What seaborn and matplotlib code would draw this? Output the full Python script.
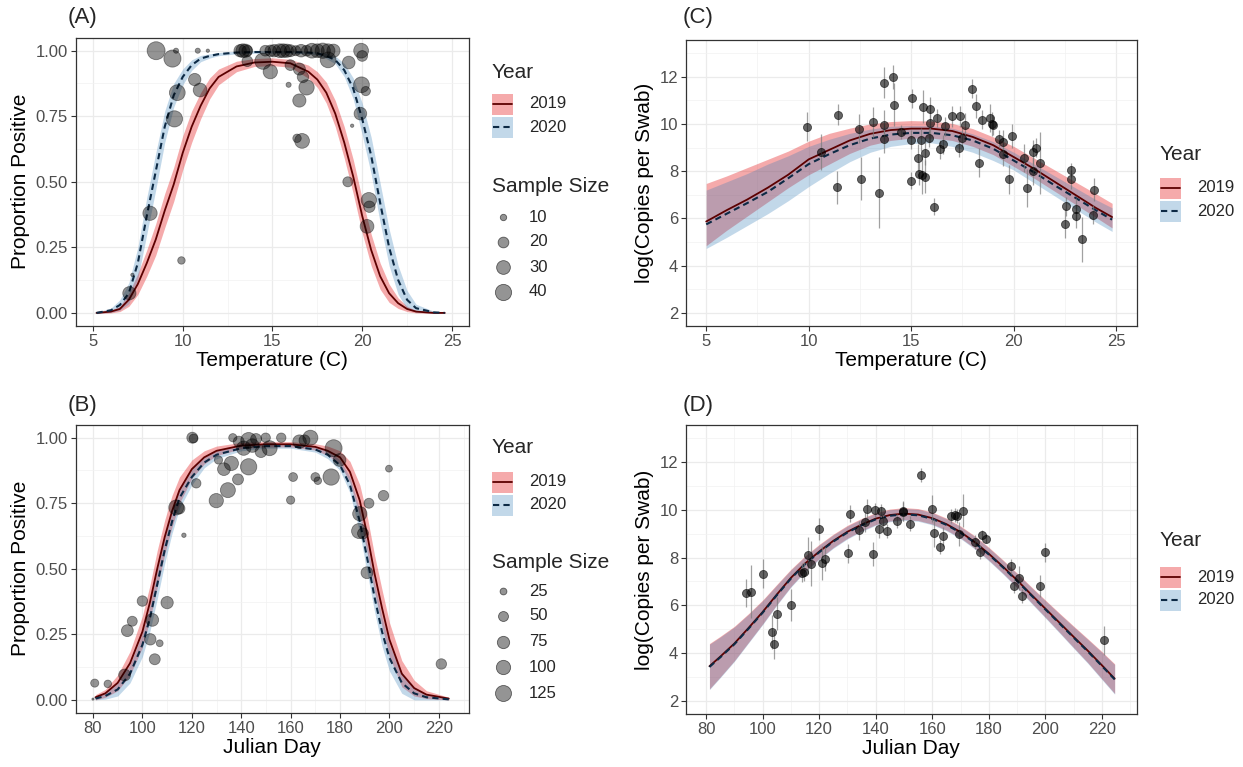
import numpy as np
import pandas as pd
import matplotlib
matplotlib.use("Agg")
import matplotlib.pyplot as plt
import seaborn as sns
from matplotlib.lines import Line2D
from matplotlib.patches import Rectangle
from matplotlib.ticker import FixedLocator

# ---------------- data ----------------
# Panel A: proportion positive vs temperature (points)
A_temp = [8.52, 9.43, 9.63, 10.84, 11.4, 10.67, 10.97, 9.70, 9.54, 8.18, 7.03, 7.20, 9.93,
          13.2, 13.35, 13.5, 13.6, 13.6, 14.47, 14.88,
          14.6, 14.9, 15.1, 15.4, 15.6, 15.8, 16.0, 16.3, 16.6, 16.9, 17.2, 17.5, 17.8, 18.1, 18.4,
          15.9, 16.0, 16.5, 16.7, 16.9, 16.5, 16.37, 16.65, 18.1, 19.25, 19.94, 20.0, 19.96, 20.2,
          19.44, 19.9, 19.2, 20.37, 20.4, 20.27]
A_prop = [1.00, 0.97, 1.00, 1.00, 1.00, 0.89, 0.85, 0.84, 0.74, 0.38, 0.075, 0.145, 0.20,
          1.00, 1.00, 1.00, 1.00, 0.96, 0.96, 0.92,
          1.00, 1.00, 1.00, 1.00, 1.00, 1.00, 1.00, 1.00, 1.00, 1.00, 1.00, 1.00, 1.00, 1.00, 1.00,
          0.87, 0.945, 0.93, 0.90, 0.86, 0.81, 0.666, 0.656, 0.965, 0.955, 1.00, 0.98, 0.87, 0.846,
          0.714, 0.76, 0.50, 0.43, 0.405, 0.33]
A_n = [48, 44, 8, 8, 6, 25, 30, 38, 40, 32, 28, 6, 12,
       25, 30, 28, 20, 20, 40, 32,
       20, 22, 25, 30, 30, 28, 24, 18, 26, 20, 34, 30, 36, 30, 28,
       8, 20, 24, 22, 36, 28, 14, 34, 38, 26, 34, 20, 38, 16,
       6, 26, 18, 36, 22, 30]

# Panel A fitted curves
A_fit_x = [5.2, 6, 6.5, 7, 7.5, 8, 8.5, 9, 9.5, 10, 10.5, 11, 11.5, 12, 13, 14, 15, 16, 17,
           17.5, 18, 18.5, 19, 19.5, 20, 20.5, 21, 21.5, 22, 22.5, 23, 24, 24.6]
A_fit_2019 = [0.0, 0.005, 0.015, 0.05, 0.11, 0.19, 0.28, 0.39, 0.49, 0.61, 0.71, 0.79, 0.856, 0.90,
              0.94, 0.955, 0.958, 0.952, 0.92, 0.89, 0.84, 0.76, 0.65, 0.52, 0.37, 0.24, 0.14,
              0.075, 0.037, 0.015, 0.005, 0.0, 0.0]
A_hw_2019 = [0.002, 0.005, 0.01, 0.025, 0.04, 0.05, 0.06, 0.065, 0.065, 0.065, 0.06, 0.05, 0.04,
             0.03, 0.02, 0.015, 0.015, 0.015, 0.025, 0.03, 0.04, 0.05, 0.06, 0.065, 0.065, 0.06,
             0.05, 0.035, 0.02, 0.01, 0.005, 0.002, 0.001]
A_fit_2020 = [0.0, 0.01, 0.03, 0.075, 0.19, 0.37, 0.54, 0.71, 0.83, 0.90, 0.945, 0.97, 0.98, 0.987,
              0.993, 0.995, 0.995, 0.995, 0.993, 0.99, 0.98, 0.965, 0.926, 0.856, 0.74, 0.60, 0.42,
              0.25, 0.126, 0.05, 0.018, 0.002, 0.0]
A_hw_2020 = [0.003, 0.008, 0.02, 0.04, 0.06, 0.07, 0.07, 0.06, 0.045, 0.03, 0.02, 0.012, 0.008,
             0.006, 0.005, 0.005, 0.005, 0.005, 0.005, 0.006, 0.01, 0.015, 0.025, 0.04, 0.06, 0.07,
             0.075, 0.07, 0.055, 0.035, 0.015, 0.004, 0.002]

# Panel B: proportion positive vs Julian day (points)
B_day = [80.7, 86, 92.8, 93.9, 95.9, 100, 104, 103.2, 105, 107, 110, 113.7, 115, 116.8,
         120.2, 120.7, 121.8, 129.9, 130.8, 134.6, 136, 133, 138.7, 143, 136.6,
         139, 141, 143, 144.5, 146, 148, 149.9, 151.5, 156.2, 160, 161, 163.6, 165.6, 168,
         170, 171, 176.4, 177.4, 179.8, 188, 187.7, 189.3, 191.7, 190.9, 197.6, 199.8, 221, 80]
B_prop = [0.064, 0.061, 0.095, 0.264, 0.30, 0.377, 0.305, 0.231, 0.155, 0.216, 0.371, 0.734, 0.73,
          0.628, 1.0, 0.997, 0.826, 0.76, 0.915, 0.80, 0.902, 0.88, 0.841, 0.889, 1.0,
          0.985, 0.96, 0.99, 0.97, 0.995, 0.947, 1.0, 0.96, 1.0, 0.762, 0.85, 0.985, 0.99, 1.0,
          0.85, 0.836, 0.85, 0.96, 0.915, 0.71, 0.644, 0.635, 0.75, 0.485, 0.779, 0.882, 0.137, 0.003]
B_n = [34, 30, 70, 70, 50, 55, 80, 65, 60, 25, 75, 110, 60, 12,
       60, 40, 45, 100, 35, 110, 100, 80, 60, 130, 35,
       60, 100, 120, 90, 60, 70, 45, 110, 45, 35, 40, 90, 60, 110,
       40, 30, 130, 140, 80, 100, 110, 60, 50, 70, 55, 25, 55, 5]

B_fit_x = [81, 85, 90, 95, 100, 103, 106, 109, 112, 115, 120, 125, 130, 140, 150, 160, 170, 175,
           180, 184, 188, 191, 194, 197, 200, 205, 210, 215, 224]
B_fit_2019 = [0.01, 0.025, 0.065, 0.14, 0.26, 0.37, 0.50, 0.62, 0.72, 0.80, 0.88, 0.925, 0.95,
              0.97, 0.975, 0.975, 0.965, 0.95, 0.925, 0.87, 0.76, 0.63, 0.48, 0.35, 0.23, 0.10,
              0.045, 0.02, 0.005]
B_hw_2019 = [0.01, 0.015, 0.03, 0.045, 0.06, 0.065, 0.07, 0.065, 0.06, 0.05, 0.035, 0.025, 0.018,
             0.012, 0.01, 0.01, 0.012, 0.018, 0.025, 0.04, 0.06, 0.07, 0.07, 0.07, 0.065, 0.05,
             0.03, 0.015, 0.005]
B_fit_2020 = [0.005, 0.015, 0.04, 0.10, 0.21, 0.31, 0.44, 0.57, 0.68, 0.77, 0.85, 0.905, 0.935,
              0.96, 0.968, 0.968, 0.955, 0.935, 0.895, 0.82, 0.68, 0.54, 0.39, 0.26, 0.16, 0.065,
              0.025, 0.01, 0.002]
B_hw_2020 = [0.008, 0.012, 0.025, 0.035, 0.045, 0.05, 0.055, 0.05, 0.045, 0.04, 0.03, 0.02, 0.015,
             0.01, 0.008, 0.008, 0.01, 0.015, 0.02, 0.03, 0.045, 0.055, 0.055, 0.055, 0.05, 0.04,
             0.025, 0.012, 0.004]

# Panel C: log copies vs temperature
C_temp = [9.93, 10.6, 11.42, 11.39, 12.45, 12.53, 13.16, 13.42, 13.65, 13.65, 13.68, 14.1, 14.17,
          14.5, 15.0, 15.05, 14.97, 15.31, 15.57, 15.37, 15.55, 15.65, 15.47, 15.68, 15.86, 15.9,
          15.9, 16.09, 16.25, 16.41, 16.54, 16.63, 16.98, 17.36, 17.31, 17.62, 17.47, 17.98, 18.15,
          18.3, 18.45, 18.82, 18.93, 18.98, 19.28, 19.5, 19.47, 19.76, 19.91, 20.51, 20.64, 20.93,
          21.08, 20.93, 21.29, 22.51, 22.53, 22.79, 22.8, 23.02, 23.05, 23.34, 23.91, 23.89]
C_copies = [9.89, 8.82, 10.39, 7.31, 9.8, 7.69, 10.07, 7.09, 9.97, 9.38, 11.75, 11.99, 10.81,
            9.66, 9.34, 11.08, 7.6, 8.57, 10.73, 7.9, 7.83, 7.76, 9.34, 8.78, 9.41, 10.04,
            10.63, 6.5, 10.25, 8.92, 9.13, 9.9, 10.32, 10.32, 8.96, 9.97, 9.41, 11.48, 10.76,
            8.36, 10.17, 10.25, 10.0, 9.94, 9.36, 9.24, 8.71, 7.65, 9.48, 8.57, 7.29, 8.81,
            8.99, 8.0, 8.34, 5.78, 6.52, 8.04, 7.66, 6.38, 6.1, 5.12, 7.22, 6.15]
C_err = [0.6, 0.75, 0.45, 0.7, 0.6, 0.9, 0.65, 1.5, 0.6, 0.6, 0.65, 0.5, 0.9,
         0.3, 0.4, 0.4, 0.35, 0.6, 0.7, 0.5, 0.8, 0.7, 0.5, 0.5, 0.4, 0.8,
         0.5, 0.35, 0.4, 0.4, 0.4, 0.4, 0.45, 0.45, 0.35, 0.5, 0.4, 0.4, 0.5,
         0.6, 0.4, 0.6, 0.5, 0.4, 0.4, 0.5, 0.5, 0.6, 0.5, 0.6, 0.8, 0.5,
         0.4, 0.6, 1.3, 0.6, 0.4, 0.3, 0.4, 0.5, 0.5, 0.95, 0.5, 0.4]

C_fit_x = [5, 6, 7, 8, 9, 10, 11, 12, 13, 14, 15, 16, 17, 18, 19, 20, 21, 22, 23, 24, 24.8]
C_fit_2019 = [5.87, 6.35, 6.8, 7.3, 7.85, 8.5, 8.9, 9.3, 9.58, 9.74, 9.8, 9.8, 9.7, 9.45, 9.1,
              8.6, 8.1, 7.55, 7.0, 6.45, 6.06]
C_hi_2019 = [7.48, 7.8, 8.15, 8.5, 8.85, 9.27, 9.6, 9.82, 10.0, 10.1, 10.14, 10.12, 10.02, 9.8,
             9.45, 9.05, 8.55, 8.05, 7.55, 7.05, 6.64]
C_lo_2019 = [4.85, 5.5, 6.1, 6.7, 7.3, 7.85, 8.3, 8.75, 9.1, 9.3, 9.4, 9.4, 9.3, 9.05, 8.7, 8.2,
             7.7, 7.15, 6.6, 6.05, 5.6]
C_fit_2020 = [5.75, 6.2, 6.65, 7.12, 7.7, 8.3, 8.72, 9.1, 9.38, 9.55, 9.62, 9.62, 9.52, 9.3, 8.95,
              8.45, 7.95, 7.4, 6.88, 6.35, 5.95]
C_hi_2020 = [7.2, 7.55, 7.9, 8.3, 8.65, 9.05, 9.35, 9.6, 9.78, 9.9, 9.93, 9.92, 9.82, 9.58, 9.25,
             8.8, 8.3, 7.8, 7.3, 6.8, 6.45]
C_lo_2020 = [4.73, 5.2, 5.7, 6.2, 6.75, 7.35, 7.9, 8.4, 8.8, 9.05, 9.17, 9.2, 9.05, 8.8, 8.45,
             8.05, 7.5, 6.95, 6.4, 5.85, 5.45]

# Panel D: log copies vs Julian day
D_day = [94.0, 96.0, 100.1, 103.2, 103.9, 105.0, 110.0, 114.0, 114.6, 116.0, 117.1, 120.0, 120.9,
         122.0, 130.2, 130.9, 134.1, 136.2, 136.9, 138.9, 139.8, 141.0, 141.8, 142.7, 144.1, 147.7,
         149.5, 149.8, 152.1, 155.9, 160.0, 160.7, 162.9, 163.9, 166.6, 168.0, 168.8, 169.5, 170.9,
         175.1, 176.8, 177.6, 178.9, 187.7, 188.8, 190.7, 191.9, 198.0, 200.0, 220.8]
D_copies = [6.52, 6.57, 7.33, 4.89, 4.36, 5.65, 6.02, 7.37, 7.4, 8.09, 7.75, 9.2, 7.77, 7.94,
            8.18, 9.84, 9.14, 9.49, 10.02, 8.14, 9.98, 9.21, 9.95, 9.53, 9.11, 9.53, 9.95, 9.91,
            9.42, 11.46, 10.05, 9.03, 8.44, 8.89, 9.74, 9.77, 9.74, 8.97, 9.96, 8.65, 8.23, 8.96,
            8.79, 7.63, 6.8, 7.16, 6.39, 6.8, 8.22, 4.54]
D_err = [0.57, 1.1, 0.6, 0.7, 0.6, 0.7, 0.66, 0.4, 0.4, 0.77, 0.95, 0.45, 0.7, 0.5, 0.4, 0.35,
         0.4, 0.4, 0.45, 0.5, 0.3, 0.4, 0.3, 0.3, 0.3, 0.3, 0.4, 0.4, 0.3, 0.3, 0.55, 0.6, 0.3,
         0.4, 0.3, 0.3, 0.3, 0.5, 0.7, 0.3, 0.3, 0.2, 0.2, 0.3, 0.3, 0.5, 0.3, 0.45, 0.4, 0.6]

D_fit_x = [81.2, 85, 90, 95, 100, 105, 110, 115, 120, 125, 130, 135, 140, 145, 150, 155, 160, 165,
           170, 175, 180, 185, 190, 195, 200, 205, 210, 215, 220, 224.5]
D_fit_2019 = [3.45, 3.85, 4.4, 5.05, 5.72, 6.45, 7.15, 7.75, 8.25, 8.7, 9.08, 9.38, 9.63, 9.78,
              9.84, 9.8, 9.65, 9.4, 9.07, 8.65, 8.16, 7.62, 7.05, 6.45, 5.86, 5.27, 4.68, 4.1,
              3.49, 2.93]
D_fit_2020 = [3.42, 3.82, 4.37, 5.02, 5.69, 6.42, 7.12, 7.72, 8.22, 8.67, 9.05, 9.35, 9.6, 9.75,
              9.81, 9.77, 9.62, 9.37, 9.04, 8.62, 8.13, 7.59, 7.02, 6.42, 5.83, 5.24, 4.65, 4.07,
              3.46, 2.9]
D_hw = [0.95, 0.85, 0.72, 0.6, 0.5, 0.42, 0.36, 0.32, 0.3, 0.28, 0.27, 0.26, 0.25, 0.25, 0.25,
        0.25, 0.25, 0.25, 0.25, 0.26, 0.27, 0.28, 0.3, 0.33, 0.36, 0.4, 0.45, 0.5, 0.57, 0.62]

years = ["2019", "2020"]
A_size_breaks = [10, 20, 30, 40]
B_size_breaks = [25, 50, 75, 100, 125]

# ---------------- style ----------------
sns.set_theme(style="white")
plt.rcParams['font.family'] = ['Liberation Sans', 'DejaVu Sans']

RED_FILL, RED_A = '#E41A1C', 0.37
BLUE_FILL, BLUE_A = '#377EB8', 0.30
LINE19 = '#5C0000'
LINE20 = '#0D2A45'
DASH = (0, (3.0, 2.0))
PT = '#000000'
TICK_FS = 12
LEG_FS = 12

W, H = 1243, 767
fig = plt.figure(figsize=(W / 100, H / 100), dpi=100)
fig.patch.set_facecolor('white')


def fx(x):
    return x / W


def fy(y):
    return 1 - y / H


def px_axes(l, t, r, b):
    return fig.add_axes([l / W, 1 - b / H, (r - l) / W, (b - t) / H])


def style(ax, xlim, ylim, xmaj, xmin, ymaj, ymin, ylabels, xlabel, ylabel):
    ax.set_facecolor('white')
    ax.set_xlim(xlim)
    ax.set_ylim(ylim)
    ax.xaxis.set_major_locator(FixedLocator(xmaj))
    ax.xaxis.set_minor_locator(FixedLocator(xmin))
    ax.yaxis.set_major_locator(FixedLocator(ymaj))
    ax.yaxis.set_minor_locator(FixedLocator(ymin))
    ax.set_xticklabels([str(v) for v in xmaj])
    ax.set_yticklabels(ylabels)
    ax.grid(which='major', color='#EBEBEB', lw=0.9)
    ax.grid(which='minor', color='#F2F2F2', lw=0.5)
    ax.set_axisbelow(True)
    for s in ax.spines.values():
        s.set_visible(True)
        s.set_color('#333333')
        s.set_linewidth(0.9)
    ax.tick_params(which='major', length=3.5, width=0.8, color='#333333', labelsize=TICK_FS,
                   labelcolor='#4D4D4D', pad=2, bottom=True, left=True)
    ax.tick_params(which='minor', length=0)
    ax.set_xlabel(xlabel, fontsize=15, labelpad=2, color='black')
    ax.set_ylabel(ylabel, fontsize=15, labelpad=4, color='black')


def year_legend(x0, ytitle, yrows):
    fig.text(fx(x0), fy(ytitle), 'Year', fontsize=15, va='center', ha='left')
    specs = [(RED_FILL, RED_A, LINE19, '-', 1.3), (BLUE_FILL, BLUE_A, LINE20, DASH, 1.5)]
    for (fc, al, lc, ls, lw), yr, lab in zip(specs, yrows, years):
        fig.add_artist(Rectangle((fx(x0), fy(yr + 10.5)), 21 / W, 21 / H, transform=fig.transFigure,
                                 facecolor=fc, alpha=al, lw=0))
        fig.add_artist(Line2D([fx(x0 + 1), fx(x0 + 20)], [fy(yr), fy(yr)], transform=fig.transFigure,
                              color=lc, lw=lw, linestyle=ls))
        fig.text(fx(x0 + 37), fy(yr), lab, fontsize=LEG_FS, va='center', ha='left')


def size_legend(x0, ytitle, yrows, breaks, norm, sizes):
    fig.text(fx(x0), fy(ytitle), 'Sample Size', fontsize=15, va='center', ha='left')
    for b, yr in zip(breaks, yrows):
        s = sizes[0] + (b - norm[0]) / (norm[1] - norm[0]) * (sizes[1] - sizes[0])
        fig.add_artist(Line2D([fx(x0 + 10.5)], [fy(yr)], transform=fig.transFigure, marker='o',
                              linestyle='', markersize=np.sqrt(s), markerfacecolor=(0, 0, 0, 0.42),
                              markeredgecolor=(0, 0, 0, 0.55), markeredgewidth=0.6))
        fig.text(fx(x0 + 37), fy(yr), str(b), fontsize=LEG_FS, va='center', ha='left')


def ribbons_lines(ax, x, c19, lo19, hi19, c20, lo20, hi20):
    ax.fill_between(x, lo19, hi19, color=RED_FILL, alpha=RED_A, lw=0, zorder=1)
    ax.fill_between(x, lo20, hi20, color=BLUE_FILL, alpha=BLUE_A, lw=0, zorder=1)
    sns.lineplot(x=x, y=c19, ax=ax, color=LINE19, lw=1.3, estimator=None, sort=False, zorder=2)
    sns.lineplot(x=x, y=c20, ax=ax, color=LINE20, lw=1.5, estimator=None, sort=False, zorder=2,
                 linestyle=DASH)


prop_labels = ['0.00', '0.25', '0.50', '0.75', '1.00']
prop_major = [0, 0.25, 0.5, 0.75, 1.0]
prop_minor = [0.125, 0.375, 0.625, 0.875]

# ---------------- Panel A ----------------
axA = px_axes(75.7, 37.6, 469, 326)
a19 = np.array(A_fit_2019); h19 = np.array(A_hw_2019)
a20 = np.array(A_fit_2020); h20 = np.array(A_hw_2020)
ribbons_lines(axA, A_fit_x, a19, a19 - h19, a19 + h19, a20, a20 - h20, np.minimum(a20 + h20, 1.0))
A_norm, A_sizes = (5, 50), (2.0, 175)
dfA = pd.DataFrame({'temp': A_temp, 'prop': A_prop, 'n': A_n})
sns.scatterplot(data=dfA, x='temp', y='prop', size='n', size_norm=A_norm, sizes=A_sizes, ax=axA,
                color=PT, alpha=0.42, edgecolor=PT, linewidth=0.6, legend=False, zorder=3)
style(axA, (4.04, 25.95), (-0.05, 1.05), [5, 10, 15, 20, 25], [7.5, 12.5, 17.5, 22.5],
      prop_major, prop_minor, prop_labels, 'Temperature (C)', 'Proportion Positive')
fig.text(fx(68), fy(18), '(A)', fontsize=16, va='center', ha='left')
year_legend(492, 73, [104, 127])
size_legend(492, 186, [217, 242, 267, 292], A_size_breaks, A_norm, A_sizes)

# ---------------- Panel B ----------------
axB = px_axes(75.7, 424.6, 469, 713)
b19 = np.array(B_fit_2019); g19 = np.array(B_hw_2019)
b20 = np.array(B_fit_2020); g20 = np.array(B_hw_2020)
ribbons_lines(axB, B_fit_x, b19, np.maximum(b19 - g19, 0), b19 + g19, b20,
              np.maximum(b20 - g20, 0), b20 + g20)
B_norm, B_sizes = (5, 150), (2.5, 160)
dfB = pd.DataFrame({'day': B_day, 'prop': B_prop, 'n': B_n})
sns.scatterplot(data=dfB, x='day', y='prop', size='n', size_norm=B_norm, sizes=B_sizes, ax=axB,
                color=PT, alpha=0.42, edgecolor=PT, linewidth=0.6, legend=False, zorder=3)
style(axB, (73.0, 232.2), (-0.05, 1.05), list(range(80, 221, 20)), list(range(90, 231, 20)),
      prop_major, prop_minor, prop_labels, 'Julian Day', 'Proportion Positive')
fig.text(fx(68), fy(405), '(B)', fontsize=16, va='center', ha='left')
year_legend(492, 448, [482, 505])
size_legend(492, 562, [591, 616, 642, 667, 693], B_size_breaks, B_norm, B_sizes)

# ---------------- Panel C ----------------
axC = px_axes(685.7, 40, 1136.7, 326)
ribbons_lines(axC, C_fit_x, C_fit_2019, C_lo_2019, C_hi_2019, C_fit_2020, C_lo_2020, C_hi_2020)
cy = np.array(C_copies); ce = np.array(C_err)
axC.vlines(C_temp, cy - ce, cy + ce, color='#7A7A7A', alpha=0.7, lw=0.9, zorder=3)
sns.scatterplot(x=C_temp, y=C_copies, ax=axC, color=PT, alpha=0.6, s=34, edgecolor=PT,
                linewidth=0.6, legend=False, zorder=4)
style(axC, (4.0, 26.0), (1.45, 13.55), [5, 10, 15, 20, 25], [7.5, 12.5, 17.5, 22.5],
      [2, 4, 6, 8, 10, 12], [3, 5, 7, 9, 11, 13], ['2', '4', '6', '8', '10', '12'],
      'Temperature (C)', 'log(Copies per Swab)')
fig.text(fx(683), fy(18), '(C)', fontsize=16, va='center', ha='left')
year_legend(1160, 155, [188, 211])

# ---------------- Panel D ----------------
axD = px_axes(685.7, 425, 1136.7, 714)
d19 = np.array(D_fit_2019); d20 = np.array(D_fit_2020); dh = np.array(D_hw)
ribbons_lines(axD, D_fit_x, d19, d19 - dh, d19 + dh, d20, d20 - dh, d20 + dh)
dy = np.array(D_copies); de = np.array(D_err)
axD.vlines(D_day, dy - de, dy + de, color='#7A7A7A', alpha=0.7, lw=0.9, zorder=3)
sns.scatterplot(x=D_day, y=D_copies, ax=axD, color=PT, alpha=0.6, s=34, edgecolor=PT,
                linewidth=0.6, legend=False, zorder=4)
style(axD, (72.8, 232.3), (1.45, 13.55), list(range(80, 221, 20)), list(range(90, 231, 20)),
      [2, 4, 6, 8, 10, 12], [3, 5, 7, 9, 11, 13], ['2', '4', '6', '8', '10', '12'],
      'Julian Day', 'log(Copies per Swab)')
fig.text(fx(683), fy(406), '(D)', fontsize=16, va='center', ha='left')
year_legend(1160, 541, [577, 600])

fig.savefig('out.png', dpi=100, facecolor='white')
